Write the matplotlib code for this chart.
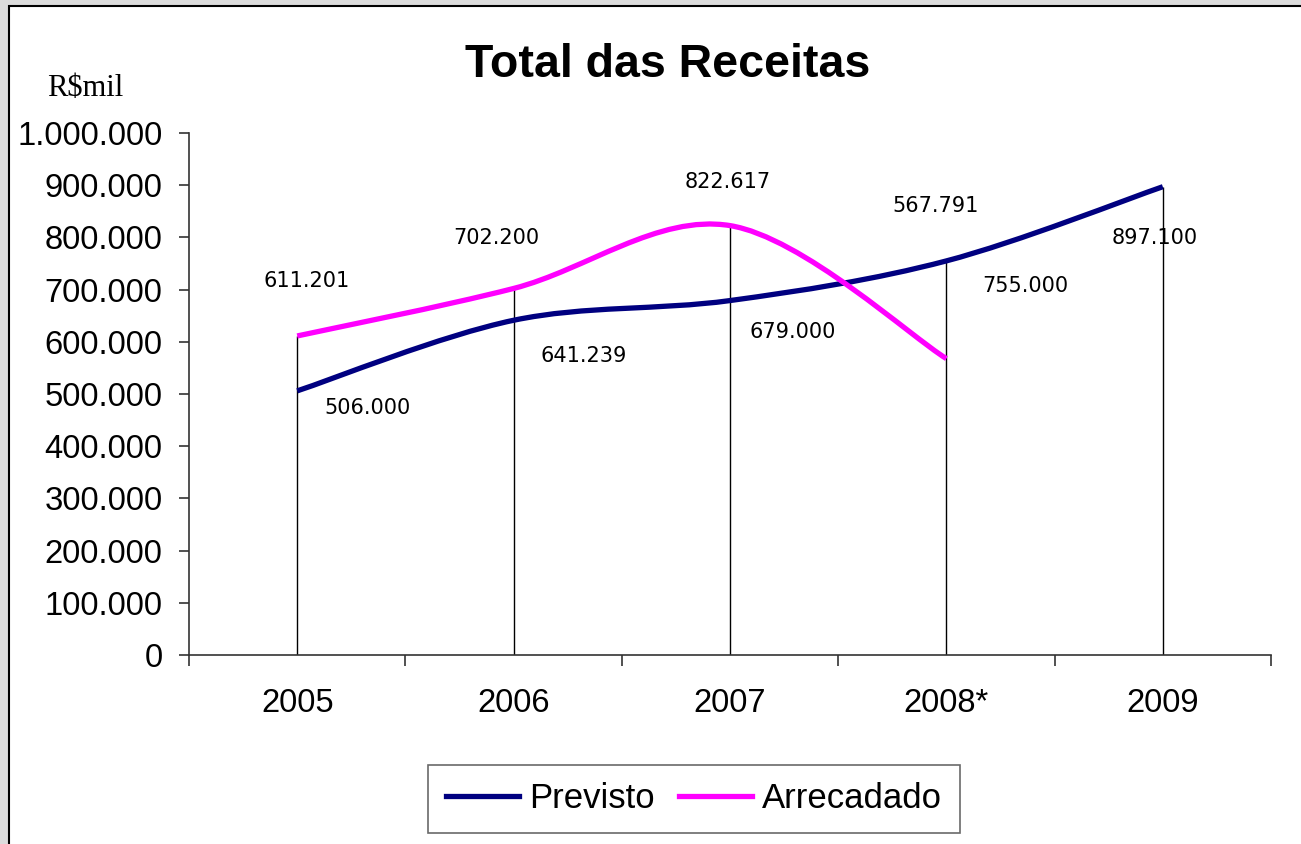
"""Total das Receitas: previsto x arrecadado (R$ mil)."""

import matplotlib

matplotlib.use("Agg")
import matplotlib.pyplot as plt
from matplotlib.patches import PathPatch, Rectangle
from matplotlib.path import Path
from matplotlib.ticker import FixedLocator, FuncFormatter

YEARS = ["2005", "2006", "2007", "2008*", "2009"]
PREVISTO = [506000, 641239, 679000, 755000, 897100]
ARRECADADO = [611201, 702200, 822617, 567791]

NAVY = "#000080"
MAGENTA = "#FF00FF"

# label offsets in pixels (dx, dy) from each point
ARR_OFFSETS = [(9, 55), (-17, 50), (-2, 44), (-11, 153)]
PREV_OFFSETS = [(70, -17), (70, -36), (63, -31), (79, -25), (-8, -51)]


def fmt_thousands(value):
    return f"{int(round(value)):,}".replace(",", ".")


def smooth_path(xs, ys):
    """Bezier path like Excel's smoothed line."""
    verts = [(xs[0], ys[0])]
    codes = [Path.MOVETO]
    n = len(xs)
    for i in range(n - 1):
        x0, y0 = (xs[i - 1], ys[i - 1]) if i > 0 else (xs[i], ys[i])
        x3, y3 = (xs[i + 2], ys[i + 2]) if i + 2 < n else (xs[i + 1], ys[i + 1])
        c1 = (xs[i] + (xs[i + 1] - x0) / 6, ys[i] + (ys[i + 1] - y0) / 6)
        c2 = (xs[i + 1] - (x3 - xs[i]) / 6, ys[i + 1] - (y3 - ys[i]) / 6)
        verts += [c1, c2, (xs[i + 1], ys[i + 1])]
        codes += [Path.CURVE4] * 3
    return Path(verts, codes)


fig = plt.figure(figsize=(13.01, 8.44), dpi=100)
fig.patch.set_facecolor("#DCDCDC")

# white chart area with black frame (behind everything)
bg = fig.add_axes([0, 0, 1, 1], zorder=-10)
bg.set_axis_off()
bg.set_xlim(0, 1)
bg.set_ylim(0, 1)
bg.add_patch(Rectangle((9 / 1301, -0.01), 1.0, 1 - 6 / 844 + 0.01,
                       facecolor="white", edgecolor="black", linewidth=1.5))

ax = fig.add_axes([189 / 1301, 1 - 655 / 844, (1271 - 189) / 1301, (655 - 133) / 844])
ax.set_facecolor("none")

x_prev = list(range(len(PREVISTO)))
x_arr = list(range(len(ARRECADADO)))

# drop lines
tops = [max(PREVISTO[i], ARRECADADO[i]) if i < len(ARRECADADO) else PREVISTO[i] for i in x_prev]
ax.vlines(x_prev, 0, tops, colors="black", linewidth=1.0, zorder=1)

for xs, ys, color, label in [
    (x_prev, PREVISTO, NAVY, "Previsto"),
    (x_arr, ARRECADADO, MAGENTA, "Arrecadado"),
]:
    ax.add_patch(PathPatch(smooth_path(xs, ys), facecolor="none", edgecolor=color,
                           linewidth=3.8, capstyle="butt", zorder=3))
    ax.plot([], [], color=color, linewidth=3.8, label=label)

for xi, v, (dx, dy) in zip(x_arr, ARRECADADO, ARR_OFFSETS):
    ax.annotate(fmt_thousands(v), (xi, v), xytext=(dx, dy), textcoords="offset pixels",
                ha="center", va="center", fontsize=15, family="DejaVu Sans")
for xi, v, (dx, dy) in zip(x_prev, PREVISTO, PREV_OFFSETS):
    ax.annotate(fmt_thousands(v), (xi, v), xytext=(dx, dy), textcoords="offset pixels",
                ha="center", va="center", fontsize=15, family="DejaVu Sans")

ax.set_xlim(-0.5, len(YEARS) - 0.5)
ax.set_ylim(0, 1000000)
ax.yaxis.set_major_locator(FixedLocator(range(0, 1000001, 100000)))
ax.yaxis.set_major_formatter(FuncFormatter(lambda v, _: fmt_thousands(v)))
ax.set_xticks([i - 0.5 for i in range(len(YEARS) + 1)])
ax.set_xticklabels([])
ax.set_xticks(range(len(YEARS)), minor=True)
ax.set_xticklabels(YEARS, minor=True)

for side in ("top", "right"):
    ax.spines[side].set_visible(False)
for side in ("left", "bottom"):
    ax.spines[side].set_color("#333333")
    ax.spines[side].set_linewidth(1.2)

ax.tick_params(axis="y", direction="out", length=7, width=1.2, color="#333333",
               labelsize=23.6, pad=12)
ax.tick_params(axis="x", which="major", direction="out", length=8, width=1.2,
               color="#333333")
ax.tick_params(axis="x", which="minor", length=0, labelsize=23.6, pad=24)
for lbl in ax.get_yticklabels() + ax.get_xticklabels(minor=True):
    lbl.set_family("Liberation Sans")

fig.text(668 / 1301, 1 - 65 / 844, "Total das Receitas", ha="center", va="center",
         fontsize=33.5, fontweight="bold", family="Liberation Sans")
fig.text(85 / 1301, 1 - 88 / 844, "R$mil", ha="center", va="center",
         fontsize=22, family="Liberation Serif")

leg = fig.legend(loc="center", bbox_to_anchor=(694 / 1301, 1 - 799 / 844), ncol=2,
                 frameon=True, fancybox=False, edgecolor="#444444",
                 prop={"family": "Liberation Sans", "size": 25},
                 handlelength=2.1, handletextpad=0.3, columnspacing=0.7,
                 borderpad=0.5)
leg.get_frame().set_linewidth(1.2)

fig.savefig("out.png", dpi=100, facecolor=fig.get_facecolor())
